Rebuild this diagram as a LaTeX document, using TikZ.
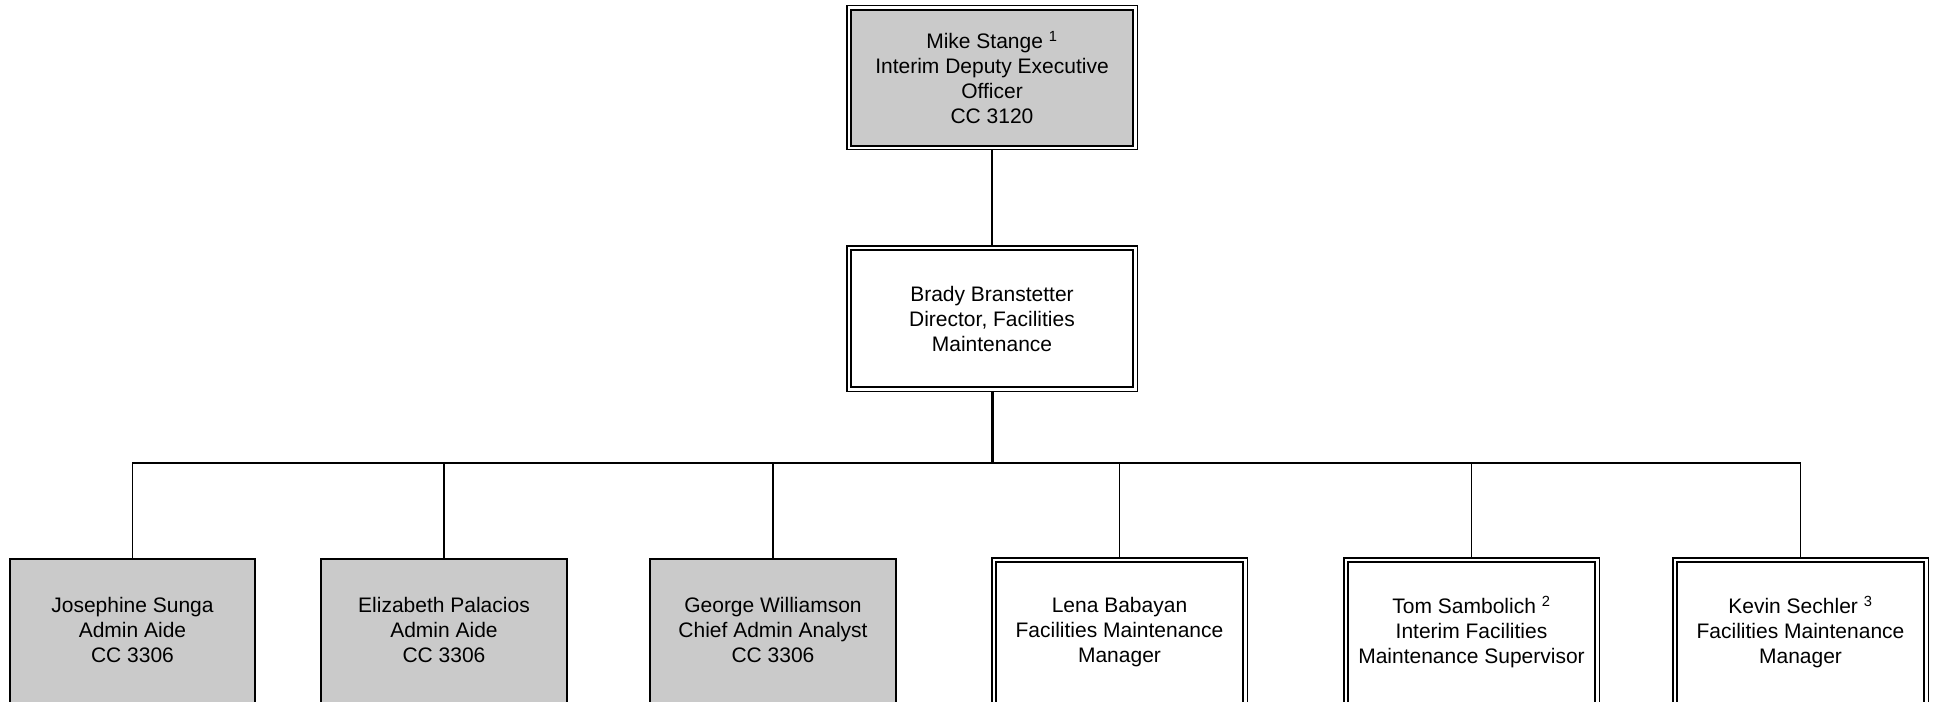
\documentclass[tikz,border=0pt]{standalone}
\usepackage{fontspec}
\setmainfont{Liberation Sans}
\definecolor{boxgray}{RGB}{202,202,202}
\begin{document}
\begin{tikzpicture}[x=0.75pt,y=-0.75pt,
  every node/.style={font=\fontsize{15.75pt}{18.75pt}\selectfont, align=center, inner sep=0pt},
  dbox/.style={rectangle, draw=black, line width=1.5pt, outer sep=3.5pt,
    preaction={draw=black, line width=7.1pt},
    preaction={draw=white, line width=5.25pt}},
  gbox/.style={rectangle, draw=black, line width=1.5pt, fill=boxgray},
  conn/.style={draw=black, line width=1.4pt},
  trunk/.style={draw=black, line width=2.25pt}]
\useasboundingbox (0,0) rectangle (1933,701);
\clip (0,0) rectangle (1933,701);
\fill[white] (0,0) rectangle (1933,701);

\node[dbox, fill=boxgray, minimum width=211.5pt, minimum height=102pt] (top) at (992,77.75)
  {Mike Stange \textsuperscript{1}\\Interim Deputy Executive\\Officer\\CC 3120};
\node[dbox, fill=white, minimum width=211.5pt, minimum height=102.75pt] (mid) at (992,318.5)
  {Brady Branstetter\\Director, Facilities\\Maintenance};

\node[gbox, minimum width=183.75pt, minimum height=125.25pt] (c1) at (132.5,642.5)
  {Josephine Sunga\\Admin Aide\\CC 3306\\\mbox{}};
\node[gbox, minimum width=184.5pt, minimum height=125.25pt] (c2) at (444,642.5)
  {Elizabeth Palacios\\Admin Aide\\CC 3306\\\mbox{}};
\node[gbox, minimum width=184.5pt, minimum height=125.25pt] (c3) at (773,642.5)
  {George Williamson\\Chief Admin Analyst\\CC 3306\\\mbox{}};
\node[dbox, fill=white, minimum width=185.25pt, minimum height=120.75pt] (c4) at (1119.5,642.5)
  {Lena Babayan\\Facilities Maintenance\\Manager\\\mbox{}};
\node[dbox, fill=white, minimum width=185.25pt, minimum height=120.75pt] (c5) at (1471.5,642.5)
  {Tom Sambolich \textsuperscript{2}\\Interim Facilities\\Maintenance Supervisor\\\mbox{}};
\node[dbox, fill=white, minimum width=185.25pt, minimum height=120.75pt] (c6) at (1800.5,642.5)
  {Kevin Sechler \textsuperscript{3}\\Facilities Maintenance\\Manager\\\mbox{}};

\coordinate (bus) at (992,463);
\draw[conn] (top) -- (mid);
\draw[trunk] (mid) -- (bus);
\foreach \c in {c1,c2,c3,c4,c5,c6}
  \draw[conn] (bus) -| (\c);
\end{tikzpicture}
\end{document}
